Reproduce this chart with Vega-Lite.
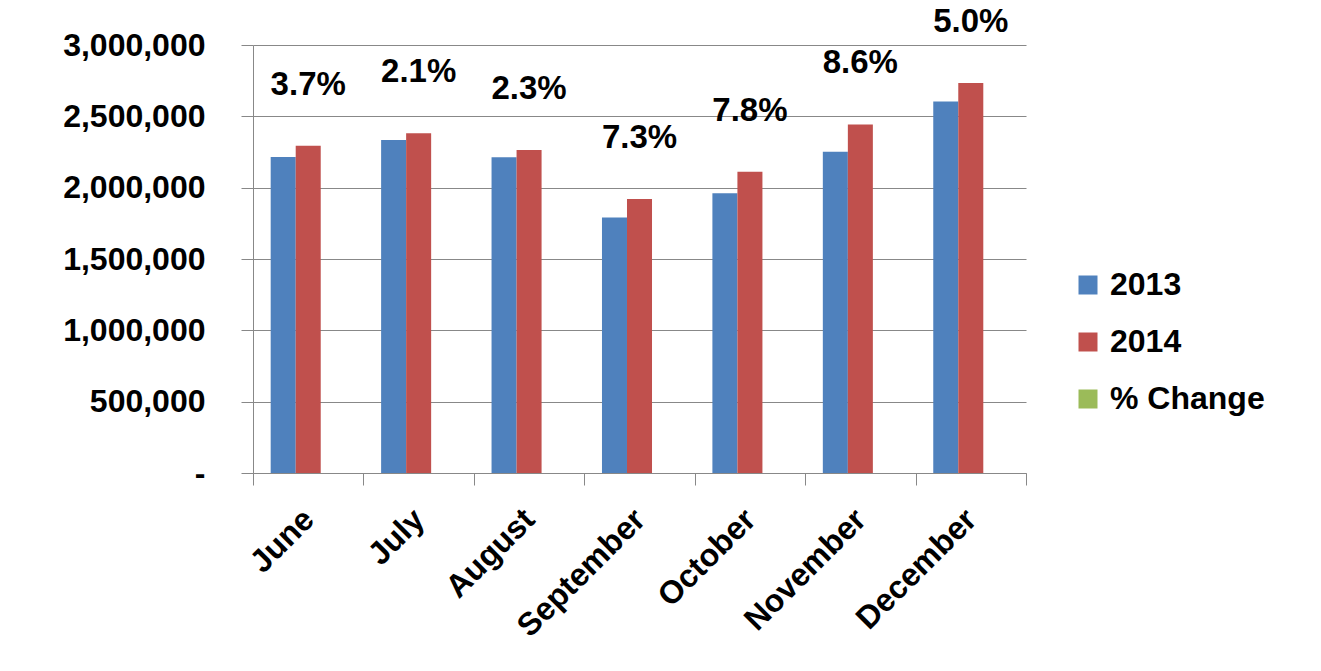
{
  "$schema": "https://vega.github.io/schema/vega-lite/v6.json",
  "width": 773,
  "height": 428,
  "autosize": {"type": "none"},
  "padding": {"left": 253, "top": 45, "right": 295, "bottom": 198},
  "background": "white",
  "config": {"font": "Liberation Sans", "view": {"stroke": null}},
  "data": {
    "values": [
      {"month": "June", "2013": 2215000, "2014": 2293000, "% Change": 0.037},
      {"month": "July", "2013": 2334000, "2014": 2382000, "% Change": 0.021},
      {"month": "August", "2013": 2214000, "2014": 2264000, "% Change": 0.023},
      {"month": "September", "2013": 1791000, "2014": 1921000, "% Change": 0.073},
      {"month": "October", "2013": 1961000, "2014": 2112000, "% Change": 0.078},
      {"month": "November", "2013": 2251000, "2014": 2443000, "% Change": 0.086},
      {"month": "December", "2013": 2604000, "2014": 2734000, "% Change": 0.05}
    ]
  },
  "layer": [
    {
      "transform": [{"fold": ["2013", "2014", "% Change"], "as": ["series", "value"]}],
      "mark": {"type": "bar"},
      "encoding": {
        "x": {
          "field": "month", "type": "nominal",
          "sort": ["June", "July", "August", "September", "October", "November", "December"],
          "scale": {"paddingInner": 0, "paddingOuter": 0},
          "axis": {
            "title": null, "labelAngle": -45, "labelFontSize": 32, "labelFontWeight": "bold",
            "labelColor": "black", "tickBand": "extent", "tickSize": 12, "domainColor": "#888888",
            "tickColor": "#888888", "labelPadding": 29, "labelAlign": "right", "labelBaseline": "middle"
          }
        },
        "xOffset": {"field": "series", "type": "nominal", "sort": ["2013", "2014", "% Change"], "scale": {"paddingInner": 0, "paddingOuter": 0.707}},
        "y": {
          "field": "value", "type": "quantitative",
          "scale": {"domain": [0, 3000000]},
          "axis": {
            "title": null, "values": [0, 500000, 1000000, 1500000, 2000000, 2500000, 3000000],
            "labelExpr": "datum.value == 0 ? '-' : format(datum.value, ',')",
            "labelFontSize": 32, "labelFontWeight": "bold", "labelColor": "black",
            "labelPadding": 36, "tickSize": 12, "tickColor": "#888888", "domainColor": "#888888",
            "grid": true, "gridColor": "#888888", "gridWidth": 1.2
          }
        },
        "color": {
          "field": "series", "type": "nominal",
          "scale": {"domain": ["2013", "2014", "% Change"], "range": ["#4F81BD", "#C0504D", "#9BBB59"]},
          "legend": {
            "title": null, "orient": "none", "legendX": 819, "legendY": 224,
            "labelFontSize": 32, "labelFontWeight": "bold", "labelColor": "black",
            "symbolType": "square", "symbolSize": 361, "symbolStrokeWidth": 0,
            "rowPadding": 25, "labelOffset": 6
          }
        }
      }
    },
    {
      "mark": {"type": "text", "dy": -61, "fontSize": 33, "fontWeight": "bold", "color": "black"},
      "encoding": {
        "x": {"field": "month", "type": "nominal", "sort": ["June", "July", "August", "September", "October", "November", "December"]},
        "y": {"field": "2014", "type": "quantitative", "axis": {"title": null}},
        "text": {"field": "% Change", "type": "quantitative", "format": ".1%"}
      }
    }
  ]
}
